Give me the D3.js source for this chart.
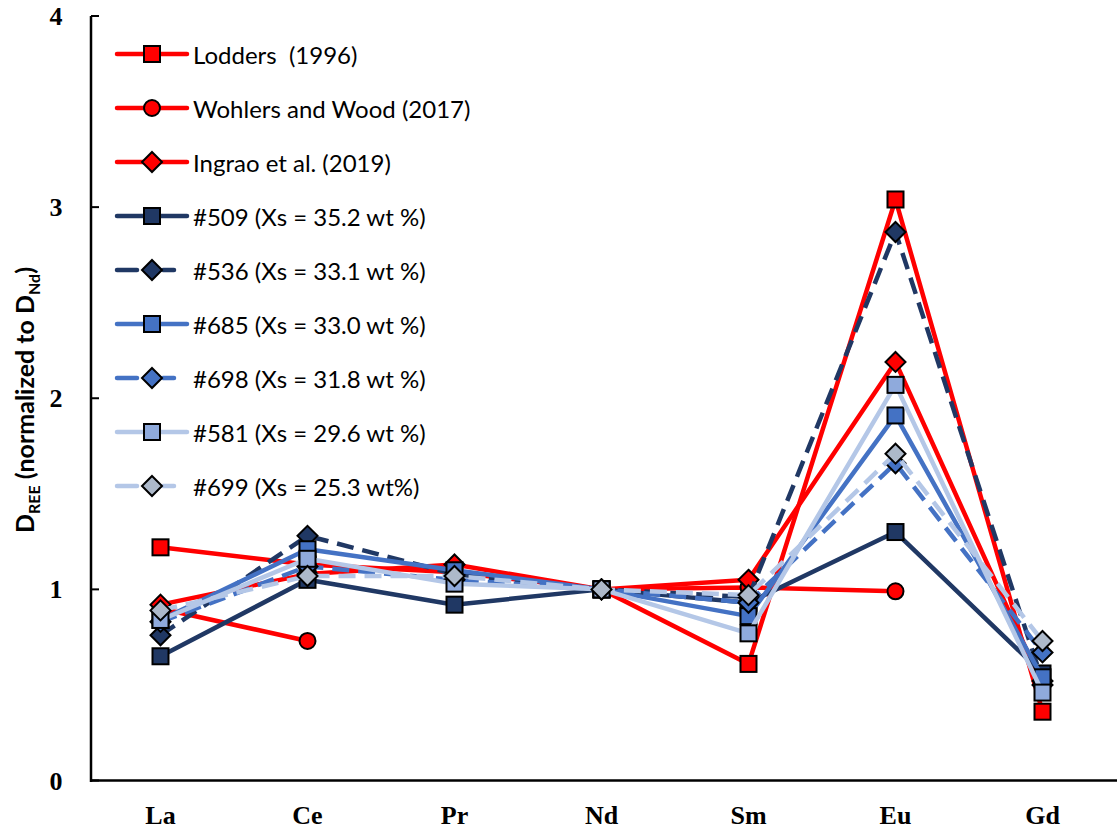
<!DOCTYPE html>
<html>
<head>
<meta charset="utf-8">
<title>D REE normalized to D Nd</title>
<script src="https://cdn.jsdelivr.net/npm/d3@7"></script>
<style>
  body { margin: 0; background: #fff; }
  svg { display: block; }
  .tick-lab { font-family: "Liberation Serif", serif; font-weight: bold; font-size: 26px; }
  .leg { font-family: Lato, "Open Sans", sans-serif; font-size: 24px; white-space: pre; }
</style>
</head>
<body>
<script>
// categories and series values (null = no point)
var elements = ["La", "Ce", "Pr", "Nd", "Sm", "Eu", "Gd"];
var yTicks = [0, 1, 2, 3, 4];

var lodders   = [1.22, 1.13, 1.09, 1.00, 0.61, 3.04, 0.36];
var wohlers   = [0.90, 0.73, null, 1.00, 1.01, 0.99, null];
var ingrao    = [0.92, 1.08, 1.13, 1.00, 1.05, 2.19, 0.50];
var run509    = [0.65, 1.05, 0.92, 1.00, 0.93, 1.30, 0.56];
var run536    = [0.76, 1.28, 1.08, 1.00, 0.96, 2.87, 0.52];
var run685    = [0.84, 1.21, 1.10, 1.00, 0.86, 1.91, 0.54];
var run698    = [0.83, 1.12, 1.05, 1.00, 0.93, 1.66, 0.67];
var run581    = [0.84, 1.16, 1.03, 1.00, 0.77, 2.07, 0.46];
var run699    = [0.89, 1.07, 1.07, 1.00, 0.97, 1.71, 0.73];

var series = [
  {name: "Lodders  (1996)",        v: lodders, line: "#ff0000", fill: "#ff0000", marker: "square",  dash: null},
  {name: "Wohlers and Wood (2017)", v: wohlers, line: "#ff0000", fill: "#ff0000", marker: "circle",  dash: null},
  {name: "Ingrao et al. (2019)",    v: ingrao,  line: "#ff0000", fill: "#ff0000", marker: "diamond", dash: null},
  {name: "#509 (Xs = 35.2 wt %)",   v: run509,  line: "#203864", fill: "#203864", marker: "square",  dash: null},
  {name: "#536 (Xs = 33.1 wt %)",   v: run536,  line: "#203864", fill: "#203864", marker: "diamond", dash: "17,9"},
  {name: "#685 (Xs = 33.0 wt %)",   v: run685,  line: "#4472c4", fill: "#4472c4", marker: "square",  dash: null},
  {name: "#698 (Xs = 31.8 wt %)",   v: run698,  line: "#4472c4", fill: "#4472c4", marker: "diamond", dash: "17,9"},
  {name: "#581 (Xs = 29.6 wt %)",   v: run581,  line: "#b4c7e7", fill: "#8faadc", marker: "square",  dash: null},
  {name: "#699 (Xs = 25.3 wt%)",    v: run699,  line: "#b4c7e7", fill: "#adb9ca", marker: "diamond", dash: "17,9"}
];

var W = 1117, H = 834;
var svg = d3.select("body").append("svg").attr("width", W).attr("height", H);

var x = d3.scalePoint().domain(elements).range([87, 1116]).padding(0.5);
var y = d3.scaleLinear().domain([0, 4]).range([780.5, 16]);

// axes
svg.append("line").attr("x1", 91).attr("x2", 91).attr("y1", 16).attr("y2", 782)
  .attr("stroke", "#000").attr("stroke-width", 2.5);
svg.append("line").attr("x1", 90).attr("x2", W).attr("y1", y(0)).attr("y2", y(0))
  .attr("stroke", "#000").attr("stroke-width", 2.5);

svg.selectAll(".ytick").data(yTicks).enter().append("line")
  .attr("x1", 91).attr("x2", 99)
  .attr("y1", function(d){ return y(d); }).attr("y2", function(d){ return y(d); })
  .attr("stroke", "#000").attr("stroke-width", 2);

svg.selectAll(".ylab").data(yTicks).enter().append("text")
  .attr("class", "tick-lab")
  .attr("x", 56).attr("y", function(d){ return y(d) + 9; })
  .attr("text-anchor", "middle")
  .text(function(d){ return d; });

svg.selectAll(".xlab").data(elements).enter().append("text")
  .attr("class", "tick-lab")
  .attr("x", function(d){ return x(d); }).attr("y", 824)
  .attr("text-anchor", "middle")
  .text(function(d){ return d; });

// y title
var yt = svg.append("text")
  .attr("transform", "translate(34,400) rotate(-90)")
  .attr("text-anchor", "middle")
  .style("font-family", "Lato, 'Open Sans', sans-serif")
  .style("font-weight", "bold").style("font-size", "25px");
yt.append("tspan").text("D");
yt.append("tspan").attr("dy", 6).style("font-size", "16px").text("REE");
yt.append("tspan").attr("dy", -6).text(" (normalized to D");
yt.append("tspan").attr("dy", 6).style("font-size", "16px").text("Nd");
yt.append("tspan").attr("dy", -6).text(")");

function drawMarker(g, type, cx, cy, fill) {
  if (type === "square") {
    g.append("rect").attr("x", cx - 8).attr("y", cy - 8).attr("width", 16).attr("height", 16)
      .attr("fill", fill).attr("stroke", "#000").attr("stroke-width", 2);
  } else if (type === "circle") {
    g.append("circle").attr("cx", cx).attr("cy", cy).attr("r", 8)
      .attr("fill", fill).attr("stroke", "#000").attr("stroke-width", 2);
  } else {
    var r = 10;
    g.append("path")
      .attr("d", "M" + cx + "," + (cy - r) + "L" + (cx + r) + "," + cy + "L" + cx + "," + (cy + r) + "L" + (cx - r) + "," + cy + "Z")
      .attr("fill", fill).attr("stroke", "#000").attr("stroke-width", 2);
  }
}

var line = d3.line()
  .defined(function(d){ return d.v != null; })
  .x(function(d){ return x(d.e); })
  .y(function(d){ return y(d.v); });

series.forEach(function(s) {
  var pts = elements.map(function(e, i){ return {e: e, v: s.v[i]}; });
  var g = svg.append("g");
  g.append("path").datum(pts).attr("d", line)
    .attr("fill", "none").attr("stroke", s.line).attr("stroke-width", 4.5)
    .attr("stroke-dasharray", s.dash).attr("stroke-linejoin", "round");
  pts.forEach(function(p){
    if (p.v != null) drawMarker(g, s.marker, x(p.e), y(p.v), s.fill);
  });
});

// legend
var lg = svg.append("g");
series.forEach(function(s, i) {
  var cy = 54 + i * 54;
  var g = lg.append("g");
  if (s.dash) {
    g.append("line").attr("x1", 117).attr("x2", 137).attr("y1", cy).attr("y2", cy)
      .attr("stroke", s.line).attr("stroke-width", 4.5).attr("stroke-linecap", "round");
    g.append("line").attr("x1", 163).attr("x2", 174).attr("y1", cy).attr("y2", cy)
      .attr("stroke", s.line).attr("stroke-width", 4.5).attr("stroke-linecap", "round");
  } else {
    g.append("line").attr("x1", 117).attr("x2", 187).attr("y1", cy).attr("y2", cy)
      .attr("stroke", s.line).attr("stroke-width", 4.5).attr("stroke-linecap", "round");
  }
  drawMarker(g, s.marker, 152, cy, s.fill);
  g.append("text").attr("class", "leg").attr("x", 193).attr("y", cy + 10).text(s.name);
});
</script>
</body>
</html>
